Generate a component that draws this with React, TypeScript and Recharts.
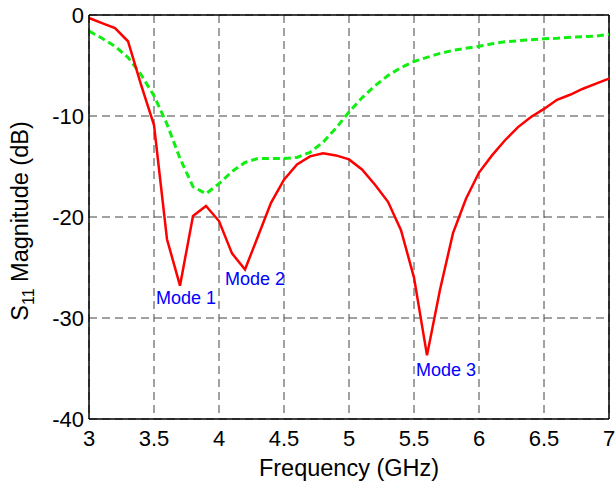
import React from 'react';
import { LineChart, Line, XAxis, YAxis, CartesianGrid, ReferenceLine, ReferenceDot } from 'recharts';

const frequency = [3.0,3.1,3.2,3.3,3.4,3.5,3.6,3.7,3.8,3.9,4.0,4.1,4.2,4.3,4.4,4.5,4.6,4.7,4.8,4.9,5.0,5.1,5.2,5.3,5.4,5.5,5.6,5.7,5.8,5.9,6.0,6.1,6.2,6.3,6.4,6.5,6.6,6.7,6.8,6.9,7.0];
const s11Red = [-0.3,-0.8,-1.3,-2.6,-6.9,-10.9,-22.2,-26.8,-19.9,-18.9,-20.4,-23.6,-25.2,-21.9,-18.6,-16.3,-14.8,-14.0,-13.7,-13.9,-14.3,-15.3,-16.8,-18.5,-21.3,-26.0,-33.7,-27.2,-21.6,-18.2,-15.6,-13.9,-12.4,-11.1,-10.1,-9.3,-8.4,-7.9,-7.3,-6.8,-6.3];
const s11Green = [-1.6,-2.3,-3.1,-4.2,-5.9,-8.0,-10.8,-14.2,-17.0,-17.7,-16.7,-15.5,-14.6,-14.2,-14.2,-14.2,-14.1,-13.6,-12.6,-11.2,-9.6,-8.2,-7.0,-6.0,-5.2,-4.6,-4.2,-3.8,-3.5,-3.3,-3.1,-2.85,-2.65,-2.55,-2.45,-2.35,-2.3,-2.2,-2.15,-2.1,-1.9];

const xTicks = [3, 3.5, 4, 4.5, 5, 5.5, 6, 6.5, 7];
const yTicks = [-40, -30, -20, -10, 0];

const modeLabels = ['Mode 1', 'Mode 2', 'Mode 3'];
const modeX = [3.515, 4.046, 5.515];
const modeY = [-28.0, -26.1, -35.1];

const data = frequency.map((f, i) => ({ f, red: s11Red[i], green: s11Green[i] }));

const FONT = '"Liberation Sans", Arial, Helvetica, sans-serif';

const fmtX = (v: number) => String(v);

const YLabel = () => (
  <text
    x={0}
    y={0}
    transform="translate(28, 221) rotate(-90)"
    textAnchor="middle"
    fontFamily={FONT}
    fontSize={23.5}
    fill="#000"
  >
    <tspan>S</tspan>
    <tspan fontSize={16} dy={6}>11</tspan>
    <tspan dy={-6}> Magnitude (dB)</tspan>
  </text>
);

export default function App() {
  return (
    <div style={{ position: 'absolute', left: 0, top: 0, background: '#fff' }}>
      <LineChart
        width={615}
        height={485}
        data={data}
        margin={{ top: 15, right: 6, bottom: 0, left: 0 }}
      >
        <CartesianGrid stroke="#444" strokeDasharray="8 5" strokeWidth={1} />
        <XAxis
          dataKey="f"
          type="number"
          domain={[3, 7]}
          ticks={xTicks}
          tickFormatter={fmtX}
          height={66}
          tickSize={0}
          tickMargin={11}
          axisLine={{ stroke: '#000', strokeWidth: 1.5 }}
          tick={{ fill: '#000', fontSize: 22, fontFamily: FONT }}
          label={{ value: 'Frequency (GHz)', position: 'insideBottom', offset: 9, fill: '#000', fontSize: 23.5, fontFamily: FONT }}
        />
        <YAxis
          type="number"
          domain={[-40, 0]}
          ticks={yTicks}
          width={89}
          tickSize={0}
          tickMargin={5}
          axisLine={{ stroke: '#000', strokeWidth: 1.5 }}
          tick={{ fill: '#000', fontSize: 22, fontFamily: FONT }}
          label={<YLabel />}
        />
        <ReferenceLine y={0} stroke="#000" strokeWidth={1.5} />
        <ReferenceLine x={7} stroke="#000" strokeWidth={1.5} />
        <Line
          type="linear"
          dataKey="green"
          stroke="#11ee11"
          strokeWidth={3}
          strokeDasharray="7 4"
          dot={false}
          isAnimationActive={false}
        />
        <Line
          type="linear"
          dataKey="red"
          stroke="#ff0000"
          strokeWidth={2.5}
          dot={false}
          isAnimationActive={false}
        />
        {modeLabels.map((m, i) => (
          <ReferenceDot
            key={m}
            x={modeX[i]}
            y={modeY[i]}
            r={0}
            shape={(p: any) => (
              <text
                x={p.cx}
                y={p.cy}
                dominantBaseline="central"
                fontFamily={FONT}
                fontSize={18}
                fill="#0000ff"
              >
                {m}
              </text>
            )}
          />
        ))}
      </LineChart>
    </div>
  );
}
